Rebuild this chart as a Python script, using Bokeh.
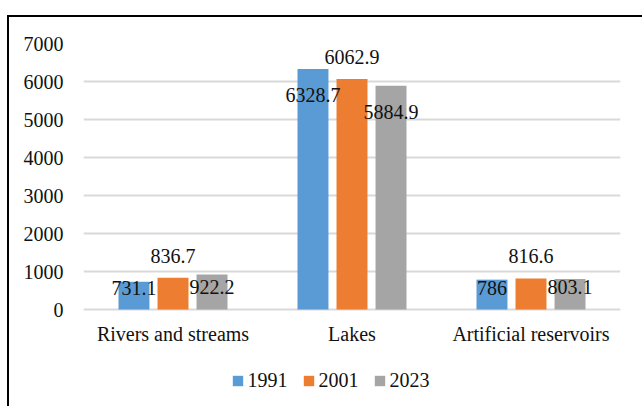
from bokeh.plotting import figure
from bokeh.models import (ColumnDataSource, FactorRange, LabelSet, Legend, LegendItem,
                          FixedTicker)
from bokeh.transform import dodge
from bokeh.embed import file_html
from bokeh.resources import INLINE

categories = ["Rivers and streams", "Lakes", "Artificial reservoirs"]
years = ["1991", "2001", "2023"]
v1991 = [731.1, 6328.7, 786.0]
v2001 = [836.7, 6062.9, 816.6]
v2023 = [922.2, 5884.9, 803.1]
labels1991 = ["731.1", "6328.7", "786"]
labels2001 = ["836.7", "6062.9", "816.6"]
labels2023 = ["922.2", "5884.9", "803.1"]
y_ticks = [0, 1000, 2000, 3000, 4000, 5000, 6000, 7000]

# styles (not data)
colors = ["#5B9BD5", "#ED7D31", "#A5A5A5"]
dodges = [-0.218, 0.0, 0.218]
label_offsets = [[-6, -26, -8], [22, 22, 22], [-13, -26, -8]]
FONT = "Times New Roman"
FS = "20px"
TXT = "#111111"

# figure placed at (9, 17) inside the window; the chart border is a shadow strip.
# The frame reaches the bottom so that the category labels and the legend sit inside it.
p = figure(width=635, height=391, x_range=FactorRange(*categories, range_padding=0),
           y_range=(-2605, 7000), output_backend="svg", toolbar_location=None,
           min_border_left=74, min_border_right=24, min_border_top=26, min_border_bottom=0)
p.styles = {"margin-left": "9px", "margin-top": "17px",
            "box-shadow": "-2px -2px 0 0 black"}
p.outline_line_color = None
p.background_fill_color = "white"
p.border_fill_color = "white"

series = [v1991, v2001, v2023]
texts = [labels1991, labels2001, labels2023]
renderers = []
for i, yr in enumerate(years):
    src = ColumnDataSource(dict(cat=categories, val=series[i], lab=texts[i], off=label_offsets[i]))
    r = p.vbar(x=dodge("cat", dodges[i], range=p.x_range), top="val", width=0.173,
               source=src, fill_color=colors[i], line_color=None)
    renderers.append(r)
    ls = LabelSet(x=dodge("cat", dodges[i], range=p.x_range), y="val", text="lab",
                  y_offset="off", source=src, text_align="center", text_baseline="middle",
                  text_font=FONT, text_font_size=FS, text_color=TXT)
    p.add_layout(ls)

# category labels under the baseline
cat_src = ColumnDataSource(dict(cat=categories, base=[0, 0, 0]))
p.add_layout(LabelSet(x="cat", y="base", text="cat", source=cat_src, y_offset=-24,
                      text_align="center", text_baseline="middle",
                      text_font=FONT, text_font_size=FS, text_color=TXT))

p.yaxis.ticker = FixedTicker(ticks=y_ticks)
p.yaxis.axis_line_color = None
p.yaxis.major_tick_line_color = None
p.yaxis.minor_tick_line_color = None
p.yaxis.major_label_text_font = FONT
p.yaxis.major_label_text_font_size = FS
p.yaxis.major_label_text_color = TXT
p.yaxis.major_label_standoff = 14

p.xaxis.visible = False

p.xgrid.grid_line_color = None
p.ygrid.ticker = FixedTicker(ticks=y_ticks)
p.ygrid.grid_line_color = "#D9D9D9"
p.ygrid.grid_line_width = 2

legend = Legend(items=[LegendItem(label=yr, renderers=[r]) for yr, r in zip(years, renderers)],
                orientation="horizontal", location=(147.5, 16), padding=0, margin=0,
                spacing=14, label_standoff=4, glyph_width=13, glyph_height=13,
                label_text_font=FONT, label_text_font_size=FS, label_text_color=TXT,
                border_line_color=None, background_fill_alpha=0)
p.add_layout(legend, "center")

open("out.html", "w").write(file_html(p, INLINE))
